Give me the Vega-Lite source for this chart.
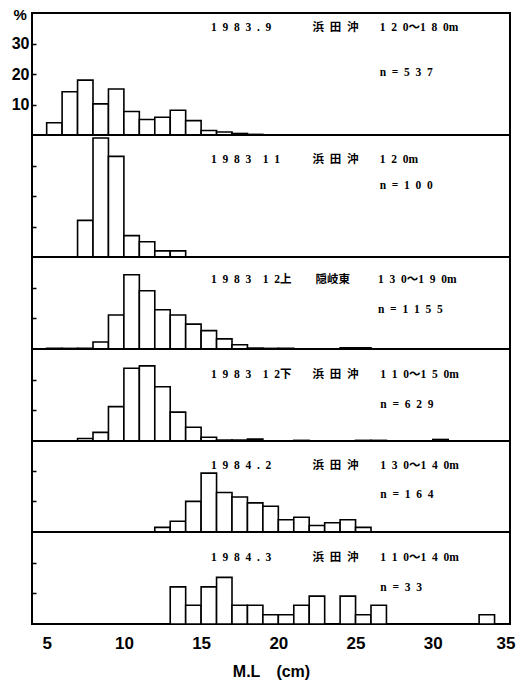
{
  "$schema": "https://vega.github.io/schema/vega-lite/v6.json",
  "padding": {"left": 10, "top": 6, "right": 0, "bottom": 0},
  "spacing": 0,
  "bounds": "flush",
  "background": "white",
  "config": {
    "view": {"stroke": "black", "strokeWidth": 2},
    "concat": {"spacing": 0},
    "axis": {"grid": false, "domain": false, "labelFont": "Liberation Sans", "labelFontWeight": "bold", "labelColor": "black", "tickColor": "black", "tickWidth": 1.5, "titleFont": "Liberation Sans", "titleColor": "black"},
    "bar": {"fill": "white", "stroke": "black", "strokeWidth": 1.6},
    "text": {"font": "Liberation Serif, 'Noto Sans CJK JP'", "fontWeight": "bold", "fontSize": 11.5, "align": "left", "baseline": "middle", "color": "black"}
  },
  "resolve": {"scale": {"x": "independent", "y": "independent"}},
  "datasets": {
    "bars": [
      {"panel": "p1", "lo": 5, "hi": 6, "pct": 4.0},
      {"panel": "p1", "lo": 6, "hi": 7, "pct": 14.2},
      {"panel": "p1", "lo": 7, "hi": 8, "pct": 18.0},
      {"panel": "p1", "lo": 8, "hi": 9, "pct": 10.2},
      {"panel": "p1", "lo": 9, "hi": 10, "pct": 15.1},
      {"panel": "p1", "lo": 10, "hi": 11, "pct": 7.7},
      {"panel": "p1", "lo": 11, "hi": 12, "pct": 5.1},
      {"panel": "p1", "lo": 12, "hi": 13, "pct": 5.8},
      {"panel": "p1", "lo": 13, "hi": 14, "pct": 8.1},
      {"panel": "p1", "lo": 14, "hi": 15, "pct": 4.7},
      {"panel": "p1", "lo": 15, "hi": 16, "pct": 1.5},
      {"panel": "p1", "lo": 16, "hi": 17, "pct": 1.0},
      {"panel": "p1", "lo": 17, "hi": 18, "pct": 0.5},
      {"panel": "p1", "lo": 18, "hi": 19, "pct": 0.2},
      {"panel": "p2", "lo": 7, "hi": 8, "pct": 12},
      {"panel": "p2", "lo": 8, "hi": 9, "pct": 39},
      {"panel": "p2", "lo": 9, "hi": 10, "pct": 33},
      {"panel": "p2", "lo": 10, "hi": 11, "pct": 7},
      {"panel": "p2", "lo": 11, "hi": 12, "pct": 5},
      {"panel": "p2", "lo": 12, "hi": 13, "pct": 2},
      {"panel": "p2", "lo": 13, "hi": 14, "pct": 2},
      {"panel": "p3", "lo": 5, "hi": 6, "pct": 0.2},
      {"panel": "p3", "lo": 6, "hi": 7, "pct": 0.2},
      {"panel": "p3", "lo": 7, "hi": 8, "pct": 0.2},
      {"panel": "p3", "lo": 8, "hi": 9, "pct": 2.3},
      {"panel": "p3", "lo": 9, "hi": 10, "pct": 11.1},
      {"panel": "p3", "lo": 10, "hi": 11, "pct": 24.2},
      {"panel": "p3", "lo": 11, "hi": 12, "pct": 19.0},
      {"panel": "p3", "lo": 12, "hi": 13, "pct": 12.8},
      {"panel": "p3", "lo": 13, "hi": 14, "pct": 11.1},
      {"panel": "p3", "lo": 14, "hi": 15, "pct": 8.1},
      {"panel": "p3", "lo": 15, "hi": 16, "pct": 6.0},
      {"panel": "p3", "lo": 16, "hi": 17, "pct": 3.3},
      {"panel": "p3", "lo": 17, "hi": 18, "pct": 1.4},
      {"panel": "p3", "lo": 18, "hi": 19, "pct": 0.3},
      {"panel": "p3", "lo": 19, "hi": 20, "pct": 0.2},
      {"panel": "p3", "lo": 20, "hi": 21, "pct": 0.2},
      {"panel": "p3", "lo": 24, "hi": 25, "pct": 0.4},
      {"panel": "p3", "lo": 25, "hi": 26, "pct": 0.4},
      {"panel": "p4", "lo": 7, "hi": 8, "pct": 0.8},
      {"panel": "p4", "lo": 8, "hi": 9, "pct": 2.8},
      {"panel": "p4", "lo": 9, "hi": 10, "pct": 11.2},
      {"panel": "p4", "lo": 10, "hi": 11, "pct": 23.7},
      {"panel": "p4", "lo": 11, "hi": 12, "pct": 24.5},
      {"panel": "p4", "lo": 12, "hi": 13, "pct": 17.7},
      {"panel": "p4", "lo": 13, "hi": 14, "pct": 9.4},
      {"panel": "p4", "lo": 14, "hi": 15, "pct": 4.5},
      {"panel": "p4", "lo": 15, "hi": 16, "pct": 1.2},
      {"panel": "p4", "lo": 16, "hi": 17, "pct": 0.3},
      {"panel": "p4", "lo": 17, "hi": 18, "pct": 0.3},
      {"panel": "p4", "lo": 18, "hi": 19, "pct": 0.6},
      {"panel": "p4", "lo": 21, "hi": 22, "pct": 0.2},
      {"panel": "p4", "lo": 25, "hi": 26, "pct": 0.2},
      {"panel": "p4", "lo": 26, "hi": 27, "pct": 0.2},
      {"panel": "p4", "lo": 30, "hi": 31, "pct": 0.5},
      {"panel": "p5", "lo": 12, "hi": 13, "pct": 1.5},
      {"panel": "p5", "lo": 13, "hi": 14, "pct": 3.5},
      {"panel": "p5", "lo": 14, "hi": 15, "pct": 10.0},
      {"panel": "p5", "lo": 15, "hi": 16, "pct": 19.2},
      {"panel": "p5", "lo": 16, "hi": 17, "pct": 12.9},
      {"panel": "p5", "lo": 17, "hi": 18, "pct": 11.4},
      {"panel": "p5", "lo": 18, "hi": 19, "pct": 9.5},
      {"panel": "p5", "lo": 19, "hi": 20, "pct": 8.4},
      {"panel": "p5", "lo": 20, "hi": 21, "pct": 4.0},
      {"panel": "p5", "lo": 21, "hi": 22, "pct": 4.8},
      {"panel": "p5", "lo": 22, "hi": 23, "pct": 2.1},
      {"panel": "p5", "lo": 23, "hi": 24, "pct": 3.0},
      {"panel": "p5", "lo": 24, "hi": 25, "pct": 4.0},
      {"panel": "p5", "lo": 25, "hi": 26, "pct": 1.5},
      {"panel": "p6", "lo": 13, "hi": 14, "pct": 12.1},
      {"panel": "p6", "lo": 14, "hi": 15, "pct": 6.1},
      {"panel": "p6", "lo": 15, "hi": 16, "pct": 12.1},
      {"panel": "p6", "lo": 16, "hi": 17, "pct": 15.2},
      {"panel": "p6", "lo": 17, "hi": 18, "pct": 6.1},
      {"panel": "p6", "lo": 18, "hi": 19, "pct": 6.1},
      {"panel": "p6", "lo": 19, "hi": 20, "pct": 3.0},
      {"panel": "p6", "lo": 20, "hi": 21, "pct": 3.0},
      {"panel": "p6", "lo": 21, "hi": 22, "pct": 6.1},
      {"panel": "p6", "lo": 22, "hi": 23, "pct": 9.1},
      {"panel": "p6", "lo": 24, "hi": 25, "pct": 9.1},
      {"panel": "p6", "lo": 25, "hi": 26, "pct": 3.0},
      {"panel": "p6", "lo": 26, "hi": 27, "pct": 6.1},
      {"panel": "p6", "lo": 33, "hi": 34, "pct": 3.0}
    ],
    "meta": [
      {"panel": "p1", "date": "1\u20029\u20028\u20023\u2002.\u20029", "place": "浜\u2002田\u2002沖", "depth": "1\u20022\u20020～1\u20028\u20020m", "n": "n\u2002=\u20025\u20023\u20027"},
      {"panel": "p2", "date": "1\u20029\u20028\u20023\u2002\u20021\u20021", "place": "浜\u2002田\u2002沖", "depth": "1\u20022\u20020m", "n": "n\u2002=\u20021\u20020\u20020"},
      {"panel": "p3", "date": "1\u20029\u20028\u20023\u2002\u20021\u20022上", "place": "隠岐東", "depth": "1\u20023\u20020～1\u20029\u20020m", "n": "n\u2002=\u20021\u20021\u20025\u20025"},
      {"panel": "p4", "date": "1\u20029\u20028\u20023\u2002\u20021\u20022下", "place": "浜\u2002田\u2002沖", "depth": "1\u20021\u20020～1\u20025\u20020m", "n": "n\u2002=\u20026\u20022\u20029"},
      {"panel": "p5", "date": "1\u20029\u20028\u20024\u2002.\u20022", "place": "浜\u2002田\u2002沖", "depth": "1\u20023\u20020～1\u20024\u20020m", "n": "n\u2002=\u20021\u20026\u20024"},
      {"panel": "p6", "date": "1\u20029\u20028\u20024\u2002.\u20023", "place": "浜\u2002田\u2002沖", "depth": "1\u20021\u20020～1\u20024\u20020m", "n": "n\u2002=\u20023\u20023"}
    ]
  },
  "vconcat": [
    {
      "width": 478, "height": 122,
      "layer": [
        {"data": {"name": "bars"}, "transform": [{"filter": "datum.panel === 'p1'"}], "mark": "bar",
         "encoding": {
           "x": {"field": "lo", "type": "quantitative", "scale": {"domain": [4.05, 35], "nice": false, "zero": false}, "axis": null},
           "x2": {"field": "hi"},
           "y": {"field": "pct", "type": "quantitative", "scale": {"domain": [0, 40], "nice": false}, "axis": {"values": [10, 20, 30], "tickSize": 4, "offset": -4, "labelPadding": 3, "labelFontSize": 16, "title": "%", "titleAngle": 0, "titleX": -23, "titleY": 1, "titleAlign": "left", "titleBaseline": "middle", "titleFontSize": 15, "titleFontWeight": "bold"}},
           "y2": {"datum": 0}
         }},
        {"data": {"name": "meta"}, "transform": [{"filter": "datum.panel === 'p1'"}], "mark": "text",
         "encoding": {"x": {"datum": 15.64, "type": "quantitative", "axis": null}, "y": {"datum": 35.1, "type": "quantitative", "axis": {"values": [10, 20, 30], "tickSize": 4, "offset": -4, "labelPadding": 3, "labelFontSize": 16, "title": "%", "titleAngle": 0, "titleX": -23, "titleY": 1, "titleAlign": "left", "titleBaseline": "middle", "titleFontSize": 15, "titleFontWeight": "bold"}}, "text": {"field": "date"}}},
        {"data": {"name": "meta"}, "transform": [{"filter": "datum.panel === 'p1'"}], "mark": "text",
         "encoding": {"x": {"datum": 22.22, "type": "quantitative", "axis": null}, "y": {"datum": 35.1, "type": "quantitative", "axis": {"values": [10, 20, 30], "tickSize": 4, "offset": -4, "labelPadding": 3, "labelFontSize": 16, "title": "%", "titleAngle": 0, "titleX": -23, "titleY": 1, "titleAlign": "left", "titleBaseline": "middle", "titleFontSize": 15, "titleFontWeight": "bold"}}, "text": {"field": "place"}}},
        {"data": {"name": "meta"}, "transform": [{"filter": "datum.panel === 'p1'"}], "mark": "text",
         "encoding": {"x": {"datum": 26.56, "type": "quantitative", "axis": null}, "y": {"datum": 35.1, "type": "quantitative", "axis": {"values": [10, 20, 30], "tickSize": 4, "offset": -4, "labelPadding": 3, "labelFontSize": 16, "title": "%", "titleAngle": 0, "titleX": -23, "titleY": 1, "titleAlign": "left", "titleBaseline": "middle", "titleFontSize": 15, "titleFontWeight": "bold"}}, "text": {"field": "depth"}}},
        {"data": {"name": "meta"}, "transform": [{"filter": "datum.panel === 'p1'"}], "mark": "text",
         "encoding": {"x": {"datum": 26.56, "type": "quantitative", "axis": null}, "y": {"datum": 20.3, "type": "quantitative", "axis": {"values": [10, 20, 30], "tickSize": 4, "offset": -4, "labelPadding": 3, "labelFontSize": 16, "title": "%", "titleAngle": 0, "titleX": -23, "titleY": 1, "titleAlign": "left", "titleBaseline": "middle", "titleFontSize": 15, "titleFontWeight": "bold"}}, "text": {"field": "n"}}}
      ]
    },
    {
      "width": 478, "height": 122,
      "layer": [
        {"data": {"name": "bars"}, "transform": [{"filter": "datum.panel === 'p2'"}], "mark": "bar",
         "encoding": {
           "x": {"field": "lo", "type": "quantitative", "scale": {"domain": [4.05, 35], "nice": false, "zero": false}, "axis": null},
           "x2": {"field": "hi"},
           "y": {"field": "pct", "type": "quantitative", "scale": {"domain": [0, 40], "nice": false}, "axis": {"values": [10, 20, 30], "tickSize": 4, "offset": -4, "labels": false, "title": null}},
           "y2": {"datum": 0}
         }},
        {"data": {"name": "meta"}, "transform": [{"filter": "datum.panel === 'p2'"}], "mark": "text",
         "encoding": {"x": {"datum": 15.64, "type": "quantitative", "axis": null}, "y": {"datum": 31.8, "type": "quantitative", "axis": {"values": [10, 20, 30], "tickSize": 4, "offset": -4, "labels": false, "title": null}}, "text": {"field": "date"}}},
        {"data": {"name": "meta"}, "transform": [{"filter": "datum.panel === 'p2'"}], "mark": "text",
         "encoding": {"x": {"datum": 22.22, "type": "quantitative", "axis": null}, "y": {"datum": 31.8, "type": "quantitative", "axis": {"values": [10, 20, 30], "tickSize": 4, "offset": -4, "labels": false, "title": null}}, "text": {"field": "place"}}},
        {"data": {"name": "meta"}, "transform": [{"filter": "datum.panel === 'p2'"}], "mark": "text",
         "encoding": {"x": {"datum": 26.56, "type": "quantitative", "axis": null}, "y": {"datum": 31.8, "type": "quantitative", "axis": {"values": [10, 20, 30], "tickSize": 4, "offset": -4, "labels": false, "title": null}}, "text": {"field": "depth"}}},
        {"data": {"name": "meta"}, "transform": [{"filter": "datum.panel === 'p2'"}], "mark": "text",
         "encoding": {"x": {"datum": 26.56, "type": "quantitative", "axis": null}, "y": {"datum": 23.3, "type": "quantitative", "axis": {"values": [10, 20, 30], "tickSize": 4, "offset": -4, "labels": false, "title": null}}, "text": {"field": "n"}}}
      ]
    },
    {
      "width": 478, "height": 92,
      "layer": [
        {"data": {"name": "bars"}, "transform": [{"filter": "datum.panel === 'p3'"}], "mark": "bar",
         "encoding": {
           "x": {"field": "lo", "type": "quantitative", "scale": {"domain": [4.05, 35], "nice": false, "zero": false}, "axis": null},
           "x2": {"field": "hi"},
           "y": {"field": "pct", "type": "quantitative", "scale": {"domain": [0, 30], "nice": false}, "axis": {"values": [10, 20], "tickSize": 4, "offset": -4, "labels": false, "title": null}},
           "y2": {"datum": 0}
         }},
        {"data": {"name": "meta"}, "transform": [{"filter": "datum.panel === 'p3'"}], "mark": "text",
         "encoding": {"x": {"datum": 15.64, "type": "quantitative", "axis": null}, "y": {"datum": 22.5, "type": "quantitative", "axis": {"values": [10, 20], "tickSize": 4, "offset": -4, "labels": false, "title": null}}, "text": {"field": "date"}}},
        {"data": {"name": "meta"}, "transform": [{"filter": "datum.panel === 'p3'"}], "mark": "text",
         "encoding": {"x": {"datum": 22.4, "type": "quantitative", "axis": null}, "y": {"datum": 22.5, "type": "quantitative", "axis": {"values": [10, 20], "tickSize": 4, "offset": -4, "labels": false, "title": null}}, "text": {"field": "place"}}},
        {"data": {"name": "meta"}, "transform": [{"filter": "datum.panel === 'p3'"}], "mark": "text",
         "encoding": {"x": {"datum": 26.45, "type": "quantitative", "axis": null}, "y": {"datum": 22.5, "type": "quantitative", "axis": {"values": [10, 20], "tickSize": 4, "offset": -4, "labels": false, "title": null}}, "text": {"field": "depth"}}},
        {"data": {"name": "meta"}, "transform": [{"filter": "datum.panel === 'p3'"}], "mark": "text",
         "encoding": {"x": {"datum": 26.45, "type": "quantitative", "axis": null}, "y": {"datum": 12.7, "type": "quantitative", "axis": {"values": [10, 20], "tickSize": 4, "offset": -4, "labels": false, "title": null}}, "text": {"field": "n"}}}
      ]
    },
    {
      "width": 478, "height": 92,
      "layer": [
        {"data": {"name": "bars"}, "transform": [{"filter": "datum.panel === 'p4'"}], "mark": "bar",
         "encoding": {
           "x": {"field": "lo", "type": "quantitative", "scale": {"domain": [4.05, 35], "nice": false, "zero": false}, "axis": null},
           "x2": {"field": "hi"},
           "y": {"field": "pct", "type": "quantitative", "scale": {"domain": [0, 30], "nice": false}, "axis": {"values": [10, 20], "tickSize": 4, "offset": -4, "labels": false, "title": null}},
           "y2": {"datum": 0}
         }},
        {"data": {"name": "meta"}, "transform": [{"filter": "datum.panel === 'p4'"}], "mark": "text",
         "encoding": {"x": {"datum": 15.64, "type": "quantitative", "axis": null}, "y": {"datum": 21.5, "type": "quantitative", "axis": {"values": [10, 20], "tickSize": 4, "offset": -4, "labels": false, "title": null}}, "text": {"field": "date"}}},
        {"data": {"name": "meta"}, "transform": [{"filter": "datum.panel === 'p4'"}], "mark": "text",
         "encoding": {"x": {"datum": 22.22, "type": "quantitative", "axis": null}, "y": {"datum": 21.5, "type": "quantitative", "axis": {"values": [10, 20], "tickSize": 4, "offset": -4, "labels": false, "title": null}}, "text": {"field": "place"}}},
        {"data": {"name": "meta"}, "transform": [{"filter": "datum.panel === 'p4'"}], "mark": "text",
         "encoding": {"x": {"datum": 26.6, "type": "quantitative", "axis": null}, "y": {"datum": 21.5, "type": "quantitative", "axis": {"values": [10, 20], "tickSize": 4, "offset": -4, "labels": false, "title": null}}, "text": {"field": "depth"}}},
        {"data": {"name": "meta"}, "transform": [{"filter": "datum.panel === 'p4'"}], "mark": "text",
         "encoding": {"x": {"datum": 26.6, "type": "quantitative", "axis": null}, "y": {"datum": 11.7, "type": "quantitative", "axis": {"values": [10, 20], "tickSize": 4, "offset": -4, "labels": false, "title": null}}, "text": {"field": "n"}}}
      ]
    },
    {
      "width": 478, "height": 91,
      "layer": [
        {"data": {"name": "bars"}, "transform": [{"filter": "datum.panel === 'p5'"}], "mark": "bar",
         "encoding": {
           "x": {"field": "lo", "type": "quantitative", "scale": {"domain": [4.05, 35], "nice": false, "zero": false}, "axis": null},
           "x2": {"field": "hi"},
           "y": {"field": "pct", "type": "quantitative", "scale": {"domain": [0, 29.7], "nice": false}, "axis": {"values": [10, 20], "tickSize": 4, "offset": -4, "labels": false, "title": null}},
           "y2": {"datum": 0}
         }},
        {"data": {"name": "meta"}, "transform": [{"filter": "datum.panel === 'p5'"}], "mark": "text",
         "encoding": {"x": {"datum": 15.64, "type": "quantitative", "axis": null}, "y": {"datum": 21.5, "type": "quantitative", "axis": {"values": [10, 20], "tickSize": 4, "offset": -4, "labels": false, "title": null}}, "text": {"field": "date"}}},
        {"data": {"name": "meta"}, "transform": [{"filter": "datum.panel === 'p5'"}], "mark": "text",
         "encoding": {"x": {"datum": 22.22, "type": "quantitative", "axis": null}, "y": {"datum": 21.5, "type": "quantitative", "axis": {"values": [10, 20], "tickSize": 4, "offset": -4, "labels": false, "title": null}}, "text": {"field": "place"}}},
        {"data": {"name": "meta"}, "transform": [{"filter": "datum.panel === 'p5'"}], "mark": "text",
         "encoding": {"x": {"datum": 26.6, "type": "quantitative", "axis": null}, "y": {"datum": 21.5, "type": "quantitative", "axis": {"values": [10, 20], "tickSize": 4, "offset": -4, "labels": false, "title": null}}, "text": {"field": "depth"}}},
        {"data": {"name": "meta"}, "transform": [{"filter": "datum.panel === 'p5'"}], "mark": "text",
         "encoding": {"x": {"datum": 26.6, "type": "quantitative", "axis": null}, "y": {"datum": 12.1, "type": "quantitative", "axis": {"values": [10, 20], "tickSize": 4, "offset": -4, "labels": false, "title": null}}, "text": {"field": "n"}}}
      ]
    },
    {
      "width": 478, "height": 92,
      "layer": [
        {"data": {"name": "bars"}, "transform": [{"filter": "datum.panel === 'p6'"}], "mark": "bar",
         "encoding": {
           "x": {"field": "lo", "type": "quantitative", "scale": {"domain": [4.05, 35], "nice": false, "zero": false}, "axis": {"values": [5, 10, 15, 20, 25, 30, 35], "ticks": false, "labelPadding": 11, "labelFontSize": 17, "labelFlush": 1, "labelFlushOffset": 5, "title": "M.L\u2003(cm)", "titleFontSize": 16, "titleFontWeight": "bold", "titlePadding": 12}},
           "x2": {"field": "hi"},
           "y": {"field": "pct", "type": "quantitative", "scale": {"domain": [0, 30], "nice": false}, "axis": {"values": [10, 20], "tickSize": 4, "offset": -4, "labels": false, "title": null}},
           "y2": {"datum": 0}
         }},
        {"data": {"name": "meta"}, "transform": [{"filter": "datum.panel === 'p6'"}], "mark": "text",
         "encoding": {"x": {"datum": 15.64, "type": "quantitative", "axis": {"values": [5, 10, 15, 20, 25, 30, 35], "ticks": false, "labelPadding": 11, "labelFontSize": 17, "labelFlush": 1, "labelFlushOffset": 5, "title": "M.L\u2003(cm)", "titleFontSize": 16, "titleFontWeight": "bold", "titlePadding": 12}}, "y": {"datum": 21.5, "type": "quantitative", "axis": {"values": [10, 20], "tickSize": 4, "offset": -4, "labels": false, "title": null}}, "text": {"field": "date"}}},
        {"data": {"name": "meta"}, "transform": [{"filter": "datum.panel === 'p6'"}], "mark": "text",
         "encoding": {"x": {"datum": 22.22, "type": "quantitative", "axis": {"values": [5, 10, 15, 20, 25, 30, 35], "ticks": false, "labelPadding": 11, "labelFontSize": 17, "labelFlush": 1, "labelFlushOffset": 5, "title": "M.L\u2003(cm)", "titleFontSize": 16, "titleFontWeight": "bold", "titlePadding": 12}}, "y": {"datum": 21.5, "type": "quantitative", "axis": {"values": [10, 20], "tickSize": 4, "offset": -4, "labels": false, "title": null}}, "text": {"field": "place"}}},
        {"data": {"name": "meta"}, "transform": [{"filter": "datum.panel === 'p6'"}], "mark": "text",
         "encoding": {"x": {"datum": 26.6, "type": "quantitative", "axis": {"values": [5, 10, 15, 20, 25, 30, 35], "ticks": false, "labelPadding": 11, "labelFontSize": 17, "labelFlush": 1, "labelFlushOffset": 5, "title": "M.L\u2003(cm)", "titleFontSize": 16, "titleFontWeight": "bold", "titlePadding": 12}}, "y": {"datum": 21.5, "type": "quantitative", "axis": {"values": [10, 20], "tickSize": 4, "offset": -4, "labels": false, "title": null}}, "text": {"field": "depth"}}},
        {"data": {"name": "meta"}, "transform": [{"filter": "datum.panel === 'p6'"}], "mark": "text",
         "encoding": {"x": {"datum": 26.6, "type": "quantitative", "axis": {"values": [5, 10, 15, 20, 25, 30, 35], "ticks": false, "labelPadding": 11, "labelFontSize": 17, "labelFlush": 1, "labelFlushOffset": 5, "title": "M.L\u2003(cm)", "titleFontSize": 16, "titleFontWeight": "bold", "titlePadding": 12}}, "y": {"datum": 11.7, "type": "quantitative", "axis": {"values": [10, 20], "tickSize": 4, "offset": -4, "labels": false, "title": null}}, "text": {"field": "n"}}}
      ]
    }
  ]
}
